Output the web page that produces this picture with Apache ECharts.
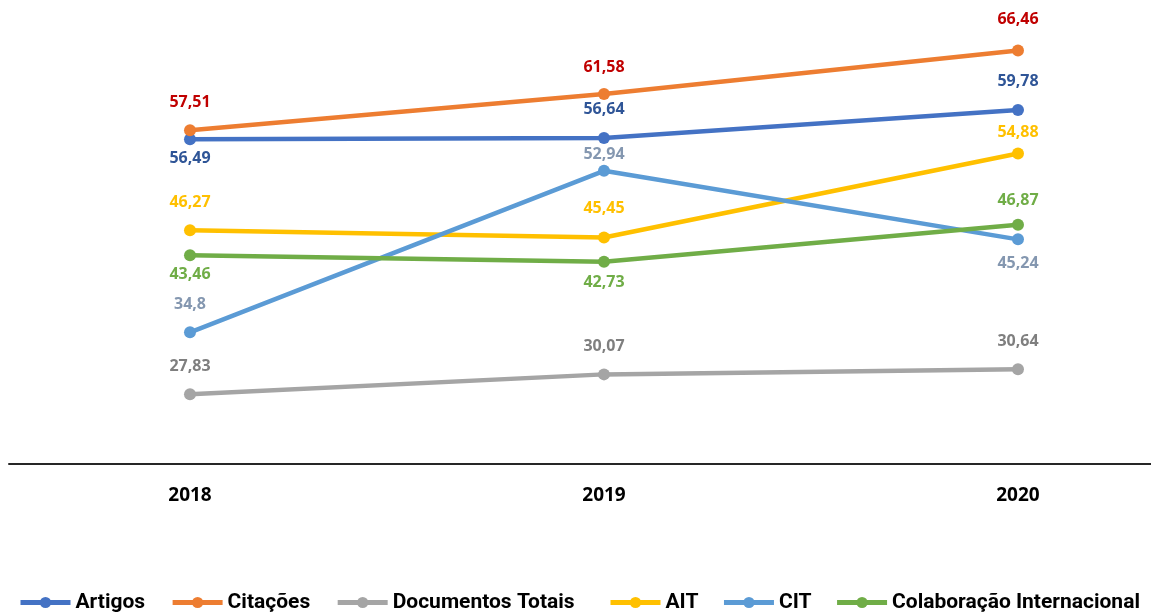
<!DOCTYPE html>
<html>
<head>
<meta charset="utf-8">
<script src="https://cdn.jsdelivr.net/npm/echarts@6/dist/echarts.min.js"></script>
<style>
  html, body { margin: 0; padding: 0; background: #ffffff; }
  #chart { width: 1151px; height: 614px; }
</style>
</head>
<body>
<div id="chart"></div>
<script>
// Years on the horizontal axis
const years = ['2018', '2019', '2020'];

// Series values per year
const artigos = [56.49, 56.64, 59.78];
const citacoes = [57.51, 61.58, 66.46];
const documentosTotais = [27.83, 30.07, 30.64];
const ait = [46.27, 45.45, 54.88];
const cit = [34.8, 52.94, 45.24];
const colaboracaoInternacional = [43.46, 42.73, 46.87];

// Vertical placement of each value label relative to its point (px)
const labelShift = {
  artigos: [19, -28, -29],
  citacoes: [-28, -27, -31],
  documentosTotais: [-28, -28, -28],
  ait: [-28, -29, -21],
  cit: [-28, -16, 24],
  colaboracaoInternacional: [19, 21, -24]
};

const FONT = '"Open Sans", "Noto Sans", sans-serif';
const LEGEND_FONT = 'Roboto, "Open Sans", sans-serif';

function makeSeries(name, values, shifts, lineColor, labelColor) {
  return {
    name: name,
    type: 'line',
    symbol: 'circle',
    symbolSize: 12,
    lineStyle: { color: lineColor, width: 4.5 },
    itemStyle: { color: lineColor },
    emphasis: { disabled: true },
    data: values.map((v, i) => ({
      value: [i, v],
      label: {
        show: true,
        position: 'inside',
        offset: [0, shifts[i]],
        color: labelColor,
        fontFamily: FONT,
        fontWeight: 'bold',
        fontSize: 16,
        formatter: () => String(v).replace('.', ',')
      }
    }))
  };
}

const series = [
  makeSeries('Artigos', artigos, labelShift.artigos, '#4472C4', '#2F5597'),
  makeSeries('Citações', citacoes, labelShift.citacoes, '#ED7D31', '#C00000'),
  makeSeries('Documentos Totais', documentosTotais, labelShift.documentosTotais, '#A5A5A5', '#7F7F7F'),
  makeSeries('AIT', ait, labelShift.ait, '#FFC000', '#FFC000'),
  makeSeries('CIT', cit, labelShift.cit, '#5B9BD5', '#8497B0'),
  makeSeries('Colaboração Internacional', colaboracaoInternacional, labelShift.colaboracaoInternacional, '#70AD47', '#70AD47')
];

const legendBase = {
  top: 592,
  padding: 0,
  itemWidth: 50,
  itemHeight: 14,
  lineStyle: { width: 5 },
  textStyle: { color: '#000000', fontFamily: LEGEND_FONT, fontWeight: 'bold', fontSize: 21 }
};

const chart = echarts.init(document.getElementById('chart'), null, { renderer: 'canvas' });
chart.setOption({
  backgroundColor: '#ffffff',
  animation: false,
  grid: { left: 9, right: 0, top: 19, bottom: 150, containLabel: false },
  xAxis: {
    type: 'value',
    min: -0.4372,
    max: 2.3213,
    axisLine: { show: true, lineStyle: { color: '#262626', width: 2 } },
    axisTick: { show: false },
    splitLine: { show: false },
    axisLabel: {
      customValues: [0, 1, 2],
      formatter: v => years[Math.round(v)],
      margin: 22,
      color: '#000000',
      fontFamily: FONT,
      fontWeight: 'bold',
      fontSize: 19
    }
  },
  yAxis: {
    type: 'value',
    min: 20,
    max: 70,
    show: false,
    splitLine: { show: false }
  },
  legend: [
    Object.assign({}, legendBase, {
      data: ['Artigos', 'Citações', 'Documentos Totais'],
      left: 18,
      itemGap: 25
    }),
    Object.assign({}, legendBase, {
      data: ['AIT', 'CIT', 'Colaboração Internacional'],
      left: 608,
      itemGap: 23
    })
  ],
  series: series
});
</script>
</body>
</html>
